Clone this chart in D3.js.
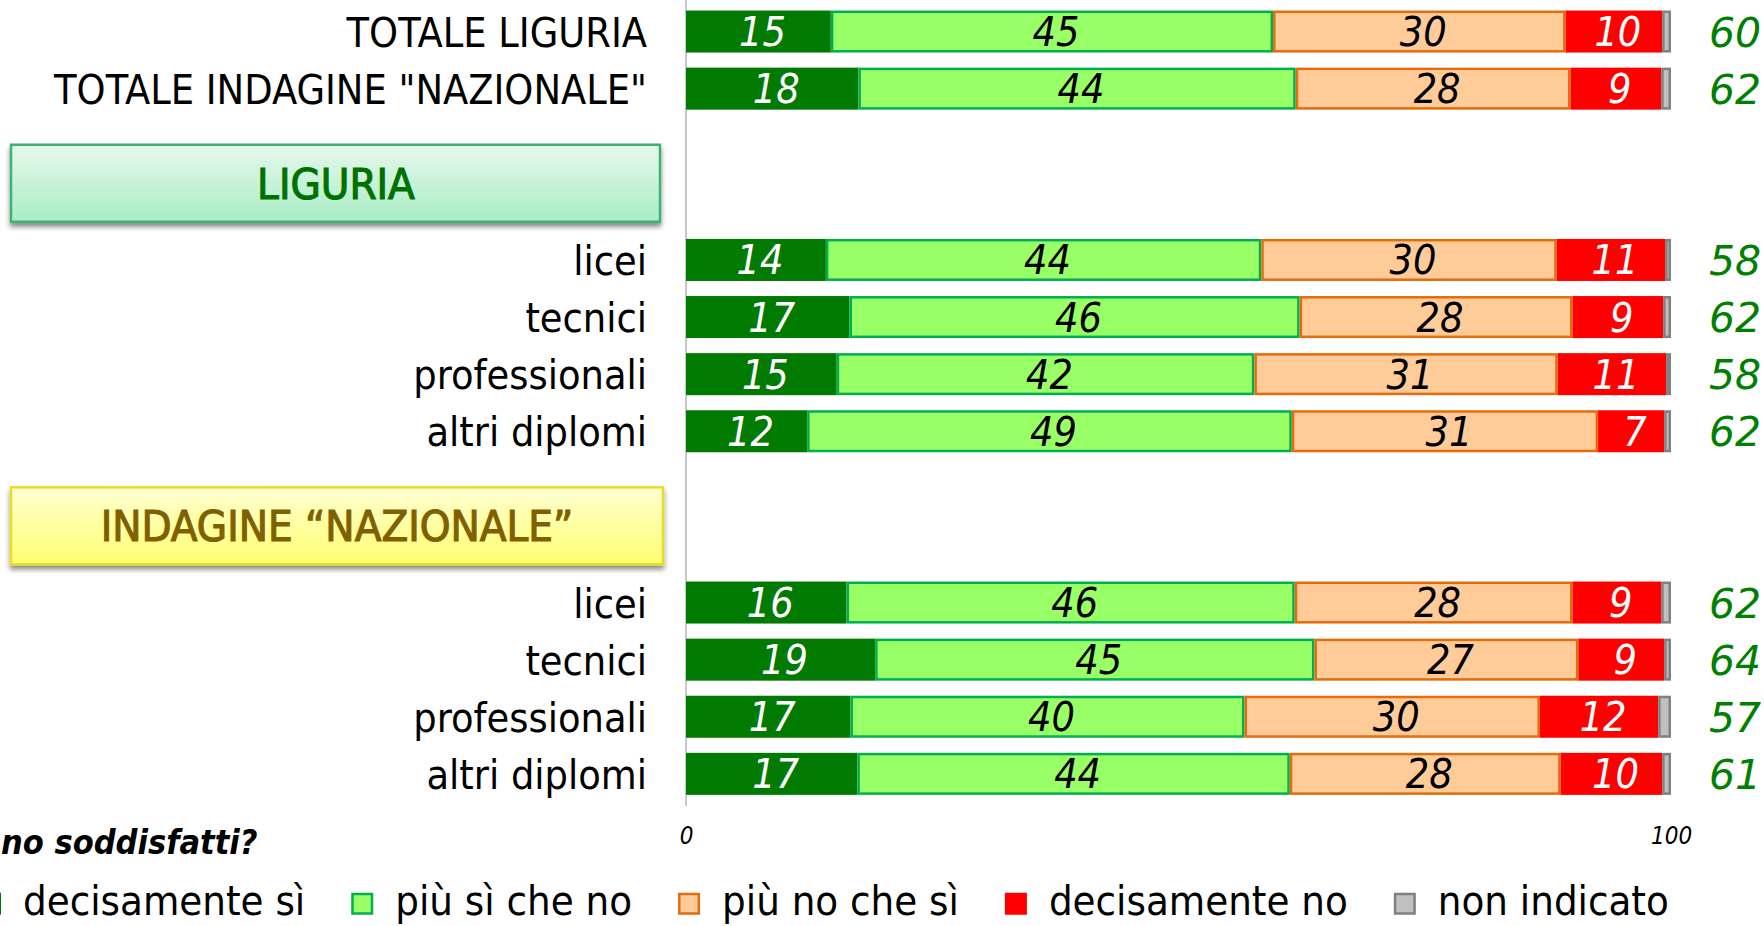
<!DOCTYPE html>
<html><head><meta charset="utf-8">
<script src="https://cdn.jsdelivr.net/npm/d3@7"></script>
<style>
html,body{margin:0;padding:0;background:#fff;overflow:hidden;}
svg{display:block;}
.cf{font-family:"DejaVu Sans Condensed","DejaVu Sans",sans-serif;font-stretch:condensed;}
</style></head>
<body>
<svg id="chart" width="1764" height="926"></svg>
<script>
// ---- data ----
const categories = ["TOTALE LIGURIA", "TOTALE INDAGINE \"NAZIONALE\"", "licei", "tecnici", "professionali", "altri diplomi", "licei", "tecnici", "professionali", "altri diplomi"];
const groups = ["totale", "totale", "LIGURIA", "LIGURIA", "LIGURIA", "LIGURIA", "NAZIONALE", "NAZIONALE", "NAZIONALE", "NAZIONALE"];
const groupTitles = ["LIGURIA", "INDAGINE \u201cNAZIONALE\u201d"];
const seriesNames = ["decisamente s\u00ec", "pi\u00f9 s\u00ec che no", "pi\u00f9 no che s\u00ec", "decisamente no", "non indicato"];
const decisamenteSi = [14.7, 17.5, 14.2, 16.6, 15.3, 12.3, 16.3, 19.2, 16.7, 17.4];
const piuSiCheNo   = [44.9, 44.4, 44.2, 45.7, 42.4, 49.2, 45.5, 44.6, 40.0, 43.9];
const piuNoCheSi   = [29.7, 27.9, 30.0, 27.7, 30.8, 31.1, 28.2, 26.8, 30.0, 27.5];
const decisamenteNo = [9.8, 9.2, 11.0, 9.2, 11.0, 6.7, 9.0, 8.7, 12.0, 10.3];
const nonIndicato  = [0.9, 1.0, 0.6, 0.8, 0.5, 0.7, 1.0, 0.7, 1.3, 0.9];
const soddisfatti  = [60, 62, 58, 62, 58, 62, 62, 64, 57, 61];
const xTicks = [0, 100];
const questionText = "no soddisfatti?";

// ---- styles ----
const fills   = ["#007a00", "#99ff66", "#ffcc99", "#ff0000", "#c0c0c0"];
const strokes = ["none", "#00b050", "#e46c0a", "none", "#808080"];
const textCol = ["#ffffff", "#000000", "#000000", "#ffffff", null];

const svg = d3.select("#chart");
const defs = svg.append("defs");
const sh = defs.append("filter").attr("id","shadow").attr("x","-5%").attr("y","-20%").attr("width","110%").attr("height","160%");
sh.append("feDropShadow").attr("dx",0).attr("dy",4).attr("stdDeviation",2.5).attr("flood-color","#000").attr("flood-opacity",0.45);
const gG = defs.append("linearGradient").attr("id","gGreen").attr("x1",0).attr("y1",0).attr("x2",0).attr("y2",1);
gG.append("stop").attr("offset","0%").attr("stop-color","#e6f8ec");
gG.append("stop").attr("offset","100%").attr("stop-color","#a9edc4");
const gY = defs.append("linearGradient").attr("id","gYellow").attr("x1",0).attr("y1",0).attr("x2",0).attr("y2",1);
gY.append("stop").attr("offset","0%").attr("stop-color","#ffffd2");
gY.append("stop").attr("offset","100%").attr("stop-color","#ffff70");

// row keys with two spacer slots before each titled group
const rows = categories.map((c, i) => ({ key: groups[i] + "|" + c + "|" + i, cat: c, group: groups[i], i }));
const domain = [];
let prevGroup = null;
rows.forEach(r => {
  if (r.group !== prevGroup && r.group !== "totale") {
    domain.push("sp1|" + r.group, "sp2|" + r.group);
  }
  domain.push(r.key);
  prevGroup = r.group;
});

const x = d3.scaleLinear().domain([0, 100]).range([686, 1671]);
const y = d3.scaleBand().domain(domain).range([3, 802.4]).paddingInner(0.264).paddingOuter(0.132);
const bw = y.bandwidth();

// vertical axis line
svg.append("line").attr("x1", x(0)).attr("x2", x(0)).attr("y1", 0).attr("y2", 806)
  .attr("stroke", "#c8c8c8").attr("stroke-width", 2);

// stacked data
const table = rows.map(r => ({ key: r.key, vals: [decisamenteSi[r.i], piuSiCheNo[r.i], piuNoCheSi[r.i], decisamenteNo[r.i], nonIndicato[r.i]] }));
const stack = d3.stack().keys([0,1,2,3,4]).value((d, k) => d.vals[k]);
const stacked = stack(table);

const layers = svg.append("g").selectAll("g").data(stacked).join("g");
layers.selectAll("rect").data(d => d.map(p => ({ p, k: d.key }))).join("rect")
  .attr("x", d => x(d.p[0]) + (strokes[d.k] === "none" ? 0 : 1.25))
  .attr("y", d => y(d.p.data.key) + (strokes[d.k] === "none" ? 0 : 1.25))
  .attr("width", d => Math.max(0.5, x(d.p[1]) - x(d.p[0]) - (strokes[d.k] === "none" ? 0 : 2.5)))
  .attr("height", d => bw - (strokes[d.k] === "none" ? 0 : 2.5))
  .attr("fill", d => fills[d.k])
  .attr("stroke", d => strokes[d.k])
  .attr("stroke-width", 2.5);

// in-bar labels
layers.filter(d => textCol[d.key] !== null).selectAll("text").data(d => d.map(p => ({ p, k: d.key }))).join("text")
  .attr("class", "cf")
  .attr("x", d => (x(d.p[0]) + x(d.p[1])) / 2 + 4)
  .attr("y", d => y(d.p.data.key) + bw / 2 + 14.5)
  .attr("text-anchor", "middle")
  .attr("font-size", 41).attr("font-style", "italic")
  .attr("fill", d => textCol[d.k])
  .text(d => Math.round(d.p[1] - d.p[0]));

// category labels
svg.append("g").selectAll("text").data(rows).join("text")
  .attr("class", "cf")
  .attr("x", 647).attr("y", d => y(d.key) + bw / 2 + 15)
  .attr("text-anchor", "end").attr("font-size", 41).attr("fill", "#000")
  .text(d => d.cat);

// right totals
svg.append("g").selectAll("text").data(rows).join("text")
  .attr("x", 1709).attr("y", d => y(d.key) + bw / 2 + 15)
  .attr("font-family", "DejaVu Sans, sans-serif")
  .attr("font-size", 41).attr("font-style", "italic").attr("fill", "#008000")
  .text(d => soddisfatti[d.i]);

// group boxes
const boxSpec = [
  { g: "LIGURIA", title: groupTitles[0], fill: "url(#gGreen)", stroke: "#3cb371", color: "#007000" },
  { g: "NAZIONALE", title: groupTitles[1], fill: "url(#gYellow)", stroke: "#e8dc28", color: "#7f6000" }
];
boxSpec.forEach(b => {
  const top = y("sp1|" + b.g) + bw / 2 - 1;
  const gb = svg.append("g");
  gb.append("rect").attr("x", 11).attr("y", top).attr("width", 649 + (b.g === "NAZIONALE" ? 3 : 0)).attr("height", 77)
    .attr("fill", b.fill).attr("stroke", b.stroke).attr("stroke-width", 2.5).attr("filter", "url(#shadow)");
  gb.append("text").attr("class", "cf").attr("x", 336 + (b.g === "NAZIONALE" ? 1 : 0)).attr("y", top + 38.5 + 15.5)
    .attr("text-anchor", "middle").attr("font-size", 43.5).attr("fill", b.color)
    .attr("stroke", b.color).attr("stroke-width", 1.1).text(b.title);
});

// x axis tick labels
const ax = svg.append("g").attr("transform", "translate(0,824)")
  .call(d3.axisBottom(x).tickValues(xTicks).tickSize(0).tickFormat(d3.format("d")));
ax.select(".domain").remove();
ax.selectAll("text").attr("class", "cf").attr("font-size", 24).attr("font-style", "italic").attr("fill", "#000");

// question text (at left edge)
svg.append("text").attr("class", "cf").attr("x", 1).attr("y", 854).attr("text-anchor", "start")
  .attr("font-size", 34).attr("font-style", "italic").attr("font-weight", "bold").attr("fill", "#000")
  .text(questionText);

// legend
const lg = svg.append("g");
let cx = -21;
seriesNames.forEach((name, k) => {
  lg.append("rect").attr("x", cx + 1.25).attr("y", 894).attr("width", 19.5).attr("height", 19.5)
    .attr("fill", fills[k]).attr("stroke", strokes[k] === "none" ? fills[k] : strokes[k]).attr("stroke-width", 2.5);
  const t = lg.append("text").attr("class", "cf").attr("x", cx + 44).attr("y", 915)
    .attr("font-size", 41.5).attr("fill", "#000").text(name);
  cx = cx + 44 + t.node().getComputedTextLength() + 46;
});
</script>
</body></html>
